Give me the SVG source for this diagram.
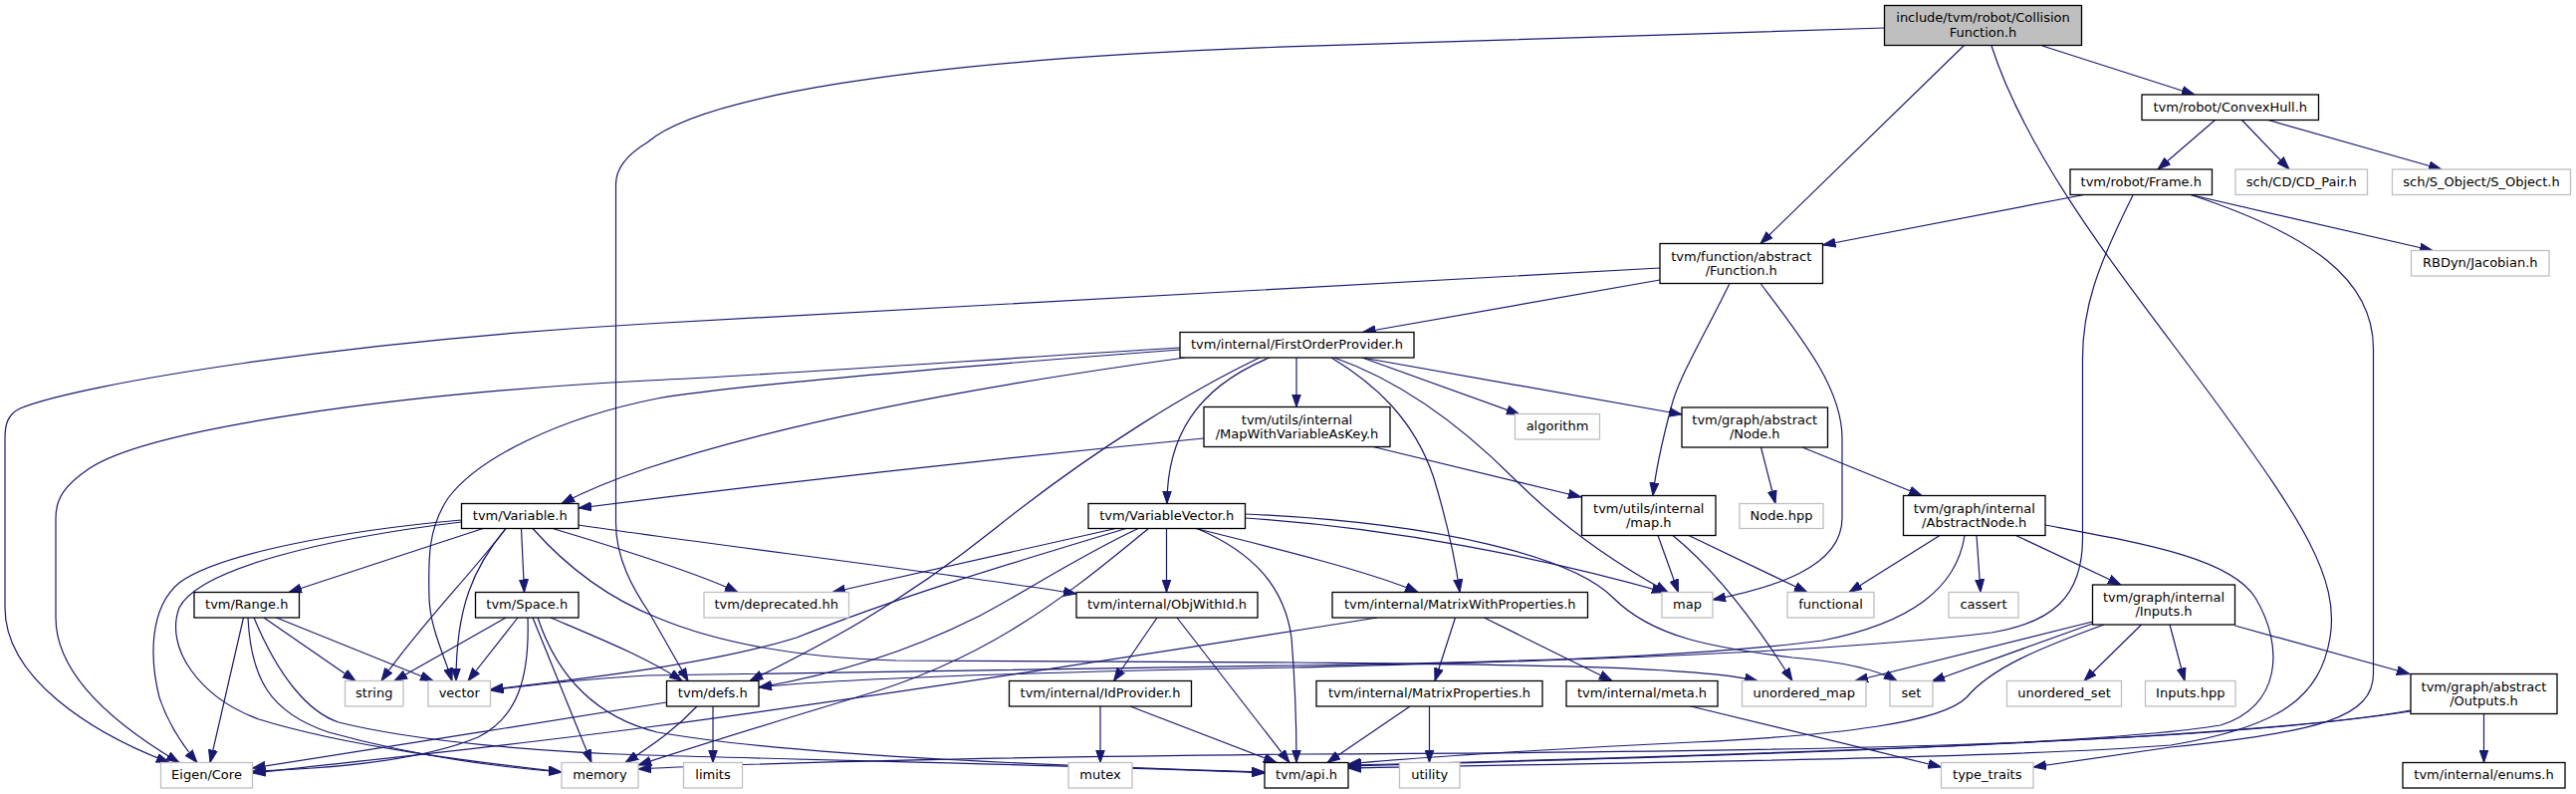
<svg xmlns="http://www.w3.org/2000/svg" width="2587" height="797" viewBox="0 0 2587 797">
<style>
.n rect{fill:#fff;stroke:#000;stroke-width:1.3}
.n.x rect{stroke:#bfbfbf}
.n.r rect{fill:#bfbfbf}
text{font-family:"DejaVu Sans","Liberation Sans",sans-serif;font-size:13px;text-anchor:middle;fill:#000}
#edges path{fill:none;stroke:#191970;stroke-width:1.2;marker-end:url(#a)}
</style>
<defs>
<marker id="a" markerUnits="userSpaceOnUse" markerWidth="14" markerHeight="10" refX="13" refY="5" orient="auto">
<path d="M0,0.5 L13,5 L0,9.5 Z" fill="#191970" stroke="#191970" stroke-width="1"/>
</marker>
</defs>
<rect width="2587" height="797" fill="#fff"/>
<g id="edges">
<path d="M2051,46 L2204,95"/>
<path d="M1972,46 L1768,244.5"/>
<path d="M1892.5,28 L1300,46.7 C900,60 700,100 650,143 C630,155 618.5,168 618.5,185 L618.5,525 C618.5,560 635,590 652,615 L691,683.5"/>
<path d="M2000,46 C2040,170 2150,300 2230,410 C2310,520 2350,580 2340,640 C2330,700 2290,730 2180,748 C2000,762 1600,766 1354,771"/>
<path d="M2224.5,120.5 L2167,170"/>
<path d="M2251.5,120.5 L2299,170"/>
<path d="M2278,120.5 L2452,170"/>
<path d="M2093,195.5 L1830.5,246"/>
<path d="M2200,195.5 L2443,251.5"/>
<path d="M2142,196 C2105,270 2091.5,310 2091.5,360 L2091.5,540 C2091.5,600 2060,625 2000,635 C1800,660 1400,667 1300,670 C1000,675 820,683 762,690"/>
<path d="M2200,195.5 C2320,235 2383.5,280 2383.5,350 L2383.5,676 C2383.5,720 2330,735 2180,750 L2042,770"/>
<path d="M1667,269 L650,325 C350,342 80,385 20,410 C8,416 5,425 5,440 L5,610 C5,680 90,735 170,765.5"/>
<path d="M1667,281 L1368.5,333.5"/>
<path d="M1737,284.5 C1710,340 1685,380 1678,410 C1670,440 1663,470 1660,497.5"/>
<path d="M1768,284.5 C1810,340 1850,390 1850,440 L1850,520 C1850,570 1780,590 1720,602"/>
<path d="M1185,349 C1000,360 800,375 650,382 C400,395 150,430 90,470 C65,487 56,500 56,520 L56,620 C56,680 120,730 180,765.5"/>
<path d="M1185,351 C1000,365 750,385 660,400 C560,420 480,460 450,500 C430,530 430,560 431,600 C432,630 445,655 454,683.5"/>
<path d="M1190,359 C1000,385 800,420 650,470 C620,480 590,492 564,505.5"/>
<path d="M1265,359 C1200,390 1100,450 1000,530 C900,610 820,650 753,683.5"/>
<path d="M1275,359 C1200,390 1172,440 1172,505.5"/>
<path d="M1302,359 L1302,408.5"/>
<path d="M1337,359 C1380,385 1420,420 1440,480 C1455,530 1462,565 1466,594.5"/>
<path d="M1340,359 C1400,380 1460,420 1520,480 C1580,540 1640,575 1675,594.5"/>
<path d="M1368,359 L1526,416"/>
<path d="M1368,359 L1689,416"/>
<path d="M1209,440 C900,470 700,495 581,510"/>
<path d="M1379,448.5 L1588,499"/>
<path d="M463.5,522 C350,532 220,555 180,585 C150,610 150,660 160,700 C170,730 185,750 198,765.5"/>
<path d="M463.5,524 C330,540 200,570 180,610 C165,650 200,700 260,722 C350,750 480,765 564,775"/>
<path d="M485,530.5 L290,594.5"/>
<path d="M508,530.5 C470,580 420,630 383,683.5"/>
<path d="M508,530.5 C475,570 458,610 458,683.5"/>
<path d="M523.5,530.5 L526.5,594.5"/>
<path d="M535,530.5 C570,570 610,600 660,620 C720,645 800,660 900,663 L1300,665 C1500,667 1700,668 1765,683.5"/>
<path d="M555,530.5 C620,550 700,575 741,594.5"/>
<path d="M581,527 C700,545 950,575 1081,596"/>
<path d="M508,620 L396,683.5"/>
<path d="M520,620 L470,683.5"/>
<path d="M530,620 C532,680 520,720 480,740 C420,765 320,772 253.5,774"/>
<path d="M535,620 L594,765.5"/>
<path d="M553,620 C600,640 650,660 685,683.5"/>
<path d="M540,620 C560,680 600,720 660,735 C800,760 1100,770 1270,775"/>
<path d="M244.5,620 L211,765.5"/>
<path d="M249,620 C252,680 270,715 330,735 C420,760 500,770 564,775"/>
<path d="M255,620 C280,680 310,715 340,725 C420,745 550,755 650,758 C900,765 1150,770 1270,776"/>
<path d="M265,620 L357,683.5"/>
<path d="M277.5,620 L435,683.5"/>
<path d="M669.5,705 C550,725 350,755 253.5,771"/>
<path d="M700,709 C680,730 660,745 628,765.5"/>
<path d="M716,709 L716,765.5"/>
<path d="M1120.5,530.5 L836,594.5"/>
<path d="M1131,530.5 C1000,570 900,600 800,640 C720,665 600,680 492.5,692"/>
<path d="M1143,530.5 C1080,560 1020,600 980,620 C920,650 850,675 762,690"/>
<path d="M1153.5,530.5 C1080,590 1000,660 860,700 C760,730 690,752 641,768"/>
<path d="M1171.5,530.5 L1171.5,594.5"/>
<path d="M1201,530.5 C1280,550 1380,575 1424,594.5"/>
<path d="M1202,530.5 C1260,555 1290,590 1297,640 C1301,690 1302,730 1302,765.5"/>
<path d="M1250.5,520 C1400,530 1550,560 1672,594.5"/>
<path d="M1250.5,516 C1450,525 1580,560 1620,600 C1660,640 1720,650 1800,660 C1860,665 1890,675 1905,683.5"/>
<path d="M1162,620 L1118.5,683.5"/>
<path d="M1182,620 L1295,765.5"/>
<path d="M1105,709 L1105,765.5"/>
<path d="M1135,709 L1282,765.5"/>
<path d="M1383,620 C1100,665 800,710 650,730 C500,750 350,765 253.5,776"/>
<path d="M1461.5,620 L1441,683.5"/>
<path d="M1490.5,620 L1619,683.5"/>
<path d="M1416,709 L1333,765.5"/>
<path d="M1435.5,709 L1435.5,765.5"/>
<path d="M1698,709 L1949.5,770"/>
<path d="M1665,537.5 L1685.5,594.5"/>
<path d="M1680,537.5 C1720,570 1760,620 1800,683.5"/>
<path d="M1696,537.5 L1815,594.5"/>
<path d="M1768.5,449 L1783,505.5"/>
<path d="M1810,449 L1930,497.5"/>
<path d="M1948,537.5 L1857,594.5"/>
<path d="M1973,537.5 C1965,590 1920,625 1830,643 C1700,660 1500,665 1300,668 C1000,672 700,676 650,678 C580,682 530,688 492.5,693"/>
<path d="M1985,537.5 L1989,594.5"/>
<path d="M2024.5,537.5 L2130,587"/>
<path d="M2054,527 C2150,545 2240,560 2265,600 C2295,650 2290,710 2230,728 C2100,750 1600,762 1354,769"/>
<path d="M2101.5,624 L1863,683.5"/>
<path d="M2101.5,626 L1940,684"/>
<path d="M2113,627 C2050,650 2000,670 1975,700 C1950,725 1850,738 1700,745 C1550,752 1400,762 1354,767"/>
<path d="M2150.5,627 L2093,683.5"/>
<path d="M2179,627 L2194,683.5"/>
<path d="M2244.5,628 L2420,676.5"/>
<path d="M2494.5,716.5 L2494.5,765.5"/>
<path d="M2421,713 C2300,735 2000,752 1354,768"/>
<path d="M2421,714 C2200,748 1800,755 1300,757 C1000,760 750,766 641,772"/>
</g>
<g id="root" class="n r"><rect x="1892.5" y="5.5" width="198" height="40"/><text x="1991.5" y="22">include/tvm/robot/Collision</text><text x="1991.5" y="37">Function.h</text></g>
<g id="convexhull" class="n"><rect x="2151" y="95" width="177.5" height="25.5"/><text x="2239.75" y="111.8">tvm/robot/ConvexHull.h</text></g>
<g id="frame" class="n"><rect x="2079" y="170" width="142.5" height="25.5"/><text x="2150.25" y="186.8">tvm/robot/Frame.h</text></g>
<g id="cdpair" class="n x"><rect x="2245" y="170" width="132.5" height="25.5"/><text x="2311.25" y="186.8">sch/CD/CD_Pair.h</text></g>
<g id="sobject" class="n x"><rect x="2402.5" y="170" width="179" height="25.5"/><text x="2492" y="186.8">sch/S_Object/S_Object.h</text></g>
<g id="rbdyn" class="n x"><rect x="2421.5" y="251.5" width="138.5" height="25.5"/><text x="2490.75" y="268.3">RBDyn/Jacobian.h</text></g>
<g id="function" class="n"><rect x="1667" y="244.5" width="163.5" height="40"/><text x="1748.75" y="261.5">tvm/function/abstract</text><text x="1748.75" y="275.5">/Function.h</text></g>
<g id="fop" class="n"><rect x="1185" y="333.5" width="235" height="25.5"/><text x="1302.5" y="350.3">tvm/internal/FirstOrderProvider.h</text></g>
<g id="mapwvk" class="n"><rect x="1209" y="408.5" width="187" height="40"/><text x="1302.5" y="425.5">tvm/utils/internal</text><text x="1302.5" y="439.5">/MapWithVariableAsKey.h</text></g>
<g id="algorithm" class="n x"><rect x="1521.5" y="415.5" width="85" height="25.5"/><text x="1564" y="432.3">algorithm</text></g>
<g id="nodeh" class="n"><rect x="1689" y="409" width="146.5" height="40"/><text x="1762.25" y="426">tvm/graph/abstract</text><text x="1762.25" y="440">/Node.h</text></g>
<g id="variable" class="n"><rect x="463.5" y="505.5" width="117.5" height="25"/><text x="522.25" y="522">tvm/Variable.h</text></g>
<g id="variablevector" class="n"><rect x="1093" y="505.5" width="157.5" height="25"/><text x="1171.75" y="522">tvm/VariableVector.h</text></g>
<g id="maph" class="n"><rect x="1588.5" y="497.5" width="134.5" height="40"/><text x="1655.75" y="514.5">tvm/utils/internal</text><text x="1655.75" y="528.5">/map.h</text></g>
<g id="nodehpp" class="n x"><rect x="1747" y="505.5" width="84" height="25"/><text x="1789" y="522">Node.hpp</text></g>
<g id="abstractnode" class="n"><rect x="1911.5" y="497.5" width="142.5" height="40"/><text x="1982.75" y="514.5">tvm/graph/internal</text><text x="1982.75" y="528.5">/AbstractNode.h</text></g>
<g id="range" class="n"><rect x="195" y="594.5" width="105.5" height="25.5"/><text x="247.75" y="611.3">tvm/Range.h</text></g>
<g id="space" class="n"><rect x="477.5" y="594.5" width="103.5" height="25.5"/><text x="529.25" y="611.3">tvm/Space.h</text></g>
<g id="deprecated" class="n x"><rect x="707" y="594.5" width="145.5" height="25.5"/><text x="779.75" y="611.3">tvm/deprecated.hh</text></g>
<g id="objwithid" class="n"><rect x="1081" y="594.5" width="182" height="25.5"/><text x="1172" y="611.3">tvm/internal/ObjWithId.h</text></g>
<g id="matrixwp" class="n"><rect x="1338" y="594.5" width="256.5" height="25.5"/><text x="1466.25" y="611.3">tvm/internal/MatrixWithProperties.h</text></g>
<g id="map" class="n x"><rect x="1669" y="594.5" width="51" height="25.5"/><text x="1694.5" y="611.3">map</text></g>
<g id="functional" class="n x"><rect x="1795" y="594.5" width="87" height="25.5"/><text x="1838.5" y="611.3">functional</text></g>
<g id="cassert" class="n x"><rect x="1957" y="594.5" width="70" height="25.5"/><text x="1992" y="611.3">cassert</text></g>
<g id="inputs" class="n"><rect x="2101.5" y="587" width="143" height="40"/><text x="2173" y="604">tvm/graph/internal</text><text x="2173" y="618">/Inputs.h</text></g>
<g id="string" class="n x"><rect x="346.5" y="683.5" width="58.5" height="25.5"/><text x="375.75" y="700.3">string</text></g>
<g id="vector" class="n x"><rect x="430" y="683.5" width="62.5" height="25.5"/><text x="461.25" y="700.3">vector</text></g>
<g id="defs" class="n"><rect x="669.5" y="683.5" width="92.5" height="25.5"/><text x="715.75" y="700.3">tvm/defs.h</text></g>
<g id="idprovider" class="n"><rect x="1013.5" y="683.5" width="183" height="25.5"/><text x="1105" y="700.3">tvm/internal/IdProvider.h</text></g>
<g id="matrixprops" class="n"><rect x="1322" y="683.5" width="227" height="25.5"/><text x="1435.5" y="700.3">tvm/internal/MatrixProperties.h</text></g>
<g id="meta" class="n"><rect x="1573" y="683.5" width="152" height="25.5"/><text x="1649" y="700.3">tvm/internal/meta.h</text></g>
<g id="unordered_map" class="n x"><rect x="1749.5" y="683.5" width="124.5" height="25.5"/><text x="1811.75" y="700.3">unordered_map</text></g>
<g id="set" class="n x"><rect x="1898" y="683.5" width="43" height="25.5"/><text x="1919.5" y="700.3">set</text></g>
<g id="unordered_set" class="n x"><rect x="2015.5" y="683.5" width="115" height="25.5"/><text x="2073" y="700.3">unordered_set</text></g>
<g id="inputshpp" class="n x"><rect x="2154.5" y="683.5" width="90.5" height="25.5"/><text x="2199.75" y="700.3">Inputs.hpp</text></g>
<g id="outputs" class="n"><rect x="2421" y="676.5" width="147" height="40"/><text x="2494.5" y="693.5">tvm/graph/abstract</text><text x="2494.5" y="707.5">/Outputs.h</text></g>
<g id="eigen" class="n x"><rect x="161.5" y="765.5" width="92" height="25.5"/><text x="207.5" y="782.3">Eigen/Core</text></g>
<g id="memory" class="n x"><rect x="564" y="765.5" width="77" height="25.5"/><text x="602.5" y="782.3">memory</text></g>
<g id="limits" class="n x"><rect x="686.5" y="765.5" width="59" height="25.5"/><text x="716" y="782.3">limits</text></g>
<g id="mutex" class="n x"><rect x="1073" y="765.5" width="64" height="25.5"/><text x="1105" y="782.3">mutex</text></g>
<g id="api" class="n"><rect x="1270" y="765.5" width="84" height="25.5"/><text x="1312" y="782.3">tvm/api.h</text></g>
<g id="utility" class="n x"><rect x="1405.5" y="765.5" width="60.5" height="25.5"/><text x="1435.75" y="782.3">utility</text></g>
<g id="type_traits" class="n x"><rect x="1949.5" y="765.5" width="92.5" height="25.5"/><text x="1995.75" y="782.3">type_traits</text></g>
<g id="enums" class="n"><rect x="2413" y="765.5" width="163" height="25.5"/><text x="2494.5" y="782.3">tvm/internal/enums.h</text></g>
</svg>
